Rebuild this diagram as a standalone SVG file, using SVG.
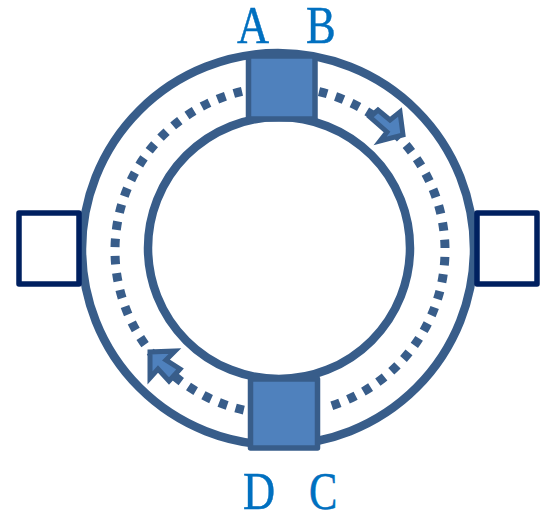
<svg xmlns="http://www.w3.org/2000/svg" width="543" height="511" viewBox="0 0 543 511">
<style>
.ring{fill:none;stroke:#385D8A;stroke-width:8.500}
.dots{fill:none;stroke:#385D8A;stroke-width:9;stroke-dasharray:8.500 8.800}
.block{fill:#4F81BD;stroke:#385D8A;stroke-width:5.500;stroke-linejoin:round}
.port{fill:#fff;stroke:#002060;stroke-width:5.500;stroke-linejoin:round}
.arrow{fill:#4F81BD;stroke:#385D8A;stroke-width:5}
.lbl{font-family:"Liberation Serif",serif;font-size:53px;fill:#0070C0;stroke:#0070C0;stroke-width:.5}
</style>
<g id="connectors">
<circle class="ring" cx="278" cy="249" r="196"/>
<circle class="ring" cx="279" cy="248" r="131"/>
<path class="dots" d="M242 91.400A165 163.500 0 0 0 246 410.500"/>
<path class="dots" d="M319 91.600A165 163.500 0 0 1 328 406.900"/>
</g>
<g id="node-left"><rect class="port" x="19" y="213" width="60" height="71"/></g>
<g id="node-right"><rect class="port" x="477" y="213" width="60" height="71"/></g>
<g id="node-top"><rect class="block" x="248.500" y="56" width="66.500" height="63"/></g>
<g id="node-bottom"><rect class="block" x="250.500" y="379" width="67" height="69"/></g>
<g id="arrow-top"><polygon class="arrow" points="370,117 378,110 390,120 400,112 403,135 380,141 387,132"/></g>
<g id="arrow-bottom"><polygon class="arrow" points="180,369 169,381 158,369 150,378 150,352 175,351 166,360"/></g>
<g id="label-a"><text class="lbl" transform="translate(237 43) scale(.84 1)">A</text></g>
<g id="label-b"><text class="lbl" transform="translate(306 43) scale(.84 1)">B</text></g>
<g id="label-d"><text class="lbl" transform="translate(243 509) scale(.84 1)">D</text></g>
<g id="label-c"><text class="lbl" transform="translate(309 509) scale(.8 1)">C</text></g>
</svg>
